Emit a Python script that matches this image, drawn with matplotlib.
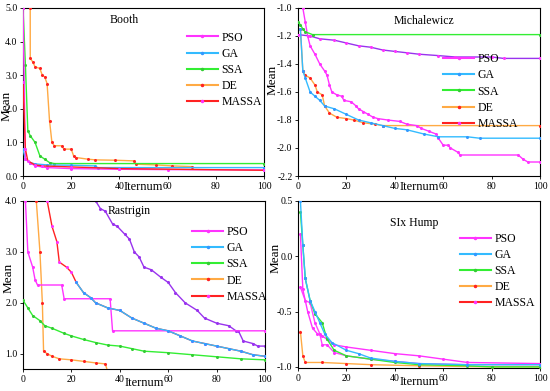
import matplotlib
matplotlib.use("Agg")
import matplotlib.pyplot as plt
from matplotlib.lines import Line2D

plt.rcParams['font.family'] = ['Liberation Serif', 'DejaVu Serif']

names = ["PSO", "GA", "SSA", "DE", "MASSA"]

# ---------------- Booth ----------------
booth_pso_x = [0, 1, 3, 5, 10, 20, 40, 60, 100]
booth_pso_y = [5.0, 0.5, 0.4, 0.3, 0.25, 0.22, 0.2, 0.19, 0.18]
booth_ga_x = [0, 1, 3, 5, 10, 20, 30, 31, 100]
booth_ga_y = [0.8, 0.5, 0.4, 0.36, 0.33, 0.32, 0.3, 0.25, 0.25]
booth_ssa_x = [0, 1, 2, 3, 5, 7, 9, 11, 13, 100]
booth_ssa_y = [5.0, 3.3, 1.35, 1.2, 1.0, 0.6, 0.5, 0.4, 0.37, 0.37]
booth_de_x = [3, 3.01, 4, 5, 7, 8, 9, 10, 11, 12, 13, 16, 17, 20, 21, 22, 27, 30, 38, 46, 47, 55, 62, 70]
booth_de_y = [5.0, 3.5, 3.4, 3.25, 3.2, 3.0, 2.95, 2.75, 1.65, 1.0, 0.9, 0.9, 0.8, 0.8, 0.6, 0.55, 0.5, 0.48, 0.47, 0.45, 0.35, 0.33, 0.3, 0.28]
booth_massa_x = [0, 1, 2, 5, 8, 20, 40, 100]
booth_massa_y = [2.8, 0.8, 0.45, 0.33, 0.3, 0.27, 0.22, 0.17]

# ---------------- Michalewicz ----------------
mich_pso_x = [2, 3, 4, 5, 7, 9, 11, 12, 13, 14, 16, 18, 19, 22, 24, 25, 27, 29, 31, 33, 37, 42, 45, 49, 51, 54, 57, 58, 60, 62, 63, 66, 67, 91, 93, 95, 100]
mich_pso_y = [-1.0, -1.1, -1.2, -1.27, -1.33, -1.4, -1.45, -1.48, -1.55, -1.6, -1.62, -1.63, -1.66, -1.67, -1.7, -1.72, -1.74, -1.76, -1.78, -1.79, -1.8, -1.81, -1.83, -1.84, -1.86, -1.88, -1.9, -1.93, -1.98, -1.98, -2.0, -2.03, -2.05, -2.05, -2.08, -2.1, -2.1]
mich_ga_x = [1, 2, 3, 5, 7, 9, 11, 15, 20, 25, 30, 35, 40, 45, 52, 58, 70, 75, 100]
mich_ga_y = [-1.15, -1.45, -1.5, -1.6, -1.63, -1.66, -1.7, -1.72, -1.76, -1.8, -1.82, -1.84, -1.86, -1.87, -1.9, -1.92, -1.92, -1.93, -1.93]
mich_ssa_x = [0, 1, 2, 3, 6, 100]
mich_ssa_y = [-1.1, -1.12, -1.15, -1.17, -1.19, -1.19]
mich_de_x = [1, 2, 3, 5, 7, 8, 10, 11, 13, 16, 20, 23, 27, 32, 35, 100]
mich_de_y = [-1.15, -1.45, -1.48, -1.5, -1.55, -1.6, -1.62, -1.7, -1.75, -1.78, -1.79, -1.8, -1.82, -1.83, -1.84, -1.84]
mich_massa_x = [0, 5, 9, 15, 20, 25, 30, 35, 40, 45, 50, 58, 65, 80, 85, 100]
mich_massa_y = [-1.19, -1.2, -1.22, -1.23, -1.25, -1.27, -1.28, -1.3, -1.31, -1.32, -1.33, -1.34, -1.35, -1.35, -1.36, -1.36]

# ---------------- Rastrigin ----------------
ras_pso_x = [1, 2, 4, 5, 6, 16, 17, 36, 37, 100]
ras_pso_y = [4.0, 3.0, 2.7, 2.45, 2.35, 2.35, 2.08, 2.08, 1.45, 1.45]
ras_ga_x = [22, 25, 28, 30, 35, 40, 45, 50, 55, 60, 65, 70, 75, 80, 85, 90, 95, 100]
ras_ga_y = [2.4, 2.2, 2.1, 2.0, 1.9, 1.85, 1.7, 1.6, 1.5, 1.45, 1.35, 1.25, 1.2, 1.15, 1.1, 1.05, 0.98, 0.95]
ras_ssa_x = [0, 2, 4, 7, 9, 12, 17, 20, 25, 30, 35, 40, 45, 50, 60, 70, 80, 90, 100]
ras_ssa_y = [2.05, 1.9, 1.75, 1.65, 1.55, 1.5, 1.4, 1.35, 1.28, 1.22, 1.17, 1.15, 1.1, 1.05, 1.02, 0.98, 0.94, 0.9, 0.88]
ras_de_x = [5.5, 7, 8, 8.5, 10, 12, 15, 20, 25, 30, 34, 35]
ras_de_y = [4.0, 3.0, 2.0, 1.05, 1.0, 0.95, 0.9, 0.88, 0.85, 0.82, 0.8, 0.65]
ras_massa_x = [10, 12, 14, 15, 18, 20, 22, 25, 28, 30, 35, 40, 45, 50, 55, 60, 65, 70, 75, 80, 85, 90, 95, 100]
ras_massa_y = [4.0, 3.5, 3.2, 2.8, 2.7, 2.6, 2.4, 2.2, 2.1, 2.0, 1.9, 1.85, 1.7, 1.6, 1.5, 1.45, 1.35, 1.25, 1.2, 1.15, 1.1, 1.05, 0.98, 0.95]
ras_extra_x = [30, 32, 34, 37, 39, 42, 44, 46, 48, 50, 53, 57, 60, 63, 67, 72, 75, 80, 85, 88, 89, 91, 95, 97, 100]
ras_extra_y = [4.0, 3.85, 3.8, 3.55, 3.5, 3.35, 3.25, 3.0, 2.9, 2.7, 2.65, 2.5, 2.4, 2.2, 2.0, 1.85, 1.7, 1.6, 1.55, 1.45, 1.45, 1.25, 1.2, 1.15, 1.15]

# ---------------- Six Hump ----------------
six_pso_x = [1, 2, 4, 6, 8, 10, 12, 15, 20, 30, 40, 50, 60, 70, 100]
six_pso_y = [0.2, -0.3, -0.5, -0.65, -0.7, -0.72, -0.75, -0.8, -0.82, -0.85, -0.88, -0.9, -0.93, -0.96, -0.97]
six_ga_x = [1, 2, 3, 5, 7, 9, 11, 14, 20, 25, 30, 40, 50, 70, 100]
six_ga_y = [0.5, 0.1, -0.2, -0.4, -0.5, -0.6, -0.7, -0.78, -0.85, -0.88, -0.92, -0.95, -0.97, -0.98, -0.98]
six_ssa_x = [1, 2, 3, 5, 7, 10, 12, 15, 20, 30, 40, 50, 70, 80, 100]
six_ssa_y = [0.4, 0.1, -0.2, -0.4, -0.52, -0.6, -0.75, -0.85, -0.9, -0.93, -0.96, -0.98, -0.99, -1.0, -1.0]
six_de_x = [1, 2, 3, 10, 20, 30, 50, 80, 100]
six_de_y = [-0.68, -0.9, -0.96, -0.96, -0.97, -0.98, -0.99, -1.0, -1.0]
six_massa_x = [1, 3, 5, 7, 9, 10, 12, 15, 20, 30, 40, 50, 70, 100]
six_massa_y = [-0.28, -0.4, -0.42, -0.6, -0.7, -0.8, -0.8, -0.87, -0.9, -0.93, -0.95, -0.97, -0.98, -0.98]

line_colors = ["#ff33ff", "#33bbff", "#33ee33", "#ffaa44", "#ff2222"]
marker_colors = ["#ff33ff", "#3399ff", "#33cc33", "#ff2222", "#ff33ff"]
violet = "#9933ee"

W, H = 550, 391
fig = plt.figure(figsize=(W / 100, H / 100), dpi=100)


def add_ax(l, t, r, b):
    return fig.add_axes([l / W, 1 - b / H, (r - l) / W, (b - t) / H])


axes_px = [(23, 8, 264, 176), (298, 8, 540, 176), (23, 201, 265, 369), (298, 201, 540, 368)]

panels = [
    dict(title="Booth", series=[(booth_pso_x, booth_pso_y), (booth_ga_x, booth_ga_y), (booth_ssa_x, booth_ssa_y),
                                (booth_de_x, booth_de_y), (booth_massa_x, booth_massa_y)],
         ylim=(0, 5), yticks=[0, 1, 2, 3, 4, 5], yfmt="{:.1f}", title_xy=(0.42, 0.93),
         leg=(0.68, 0.86), ylab=(-0.045, 0.42), xlab=(0.5, -0.03), violet=None,
         massa_color="#ff2222"),
    dict(title="Michalewicz", series=[(mich_pso_x, mich_pso_y), (mich_ga_x, mich_ga_y), (mich_ssa_x, mich_ssa_y),
                                      (mich_de_x, mich_de_y), (mich_massa_x, mich_massa_y)],
         ylim=(-2.2, -1.0), yticks=[-2.2, -2.0, -1.8, -1.6, -1.4, -1.2, -1.0], yfmt="{:.1f}", title_xy=(0.52, 0.92),
         leg=(0.6, 0.73), ylab=(-0.079, 0.57), xlab=(0.5, -0.03), violet=None, massa_color=violet),
    dict(title="Rastrigin", series=[(ras_pso_x, ras_pso_y), (ras_ga_x, ras_ga_y), (ras_ssa_x, ras_ssa_y),
                                    (ras_de_x, ras_de_y), (ras_massa_x, ras_massa_y)],
         ylim=(0.7, 4.0), yticks=[1, 2, 3, 4], yfmt="{:.1f}", title_xy=(0.44, 0.94),
         leg=(0.7, 0.85), ylab=(-0.033, 0.54), xlab=(0.5, -0.045), violet=(ras_extra_x, ras_extra_y),
         massa_color="#ff2222"),
    dict(title="SIx Hump", series=[(six_pso_x, six_pso_y), (six_ga_x, six_ga_y), (six_ssa_x, six_ssa_y),
                                   (six_de_x, six_de_y), (six_massa_x, six_massa_y)],
         ylim=(-1.01, 0.5), yticks=[-1.0, -0.5, 0.0, 0.5], yfmt="{:.1f}", title_xy=(0.48, 0.87),
         leg=(0.67, 0.81), ylab=(-0.066, 0.66), xlab=(0.5, -0.045), violet=None, massa_color="#ff44ff"),
]

for (l, t, r, b), p in zip(axes_px, panels):
    ax = add_ax(l, t, r, b)
    order = [3, 4, 0, 2, 1] if p["title"] != "Booth" else [3, 2, 1, 0, 4]
    if p["violet"] is not None:
        ax.plot(p["violet"][0], p["violet"][1], color=violet, lw=1.0, marker='o', ms=1.2, zorder=2)
    for i in order:
        xs, ys = p["series"][i]
        c = line_colors[i]
        if i == 4:
            c = p["massa_color"]
        ax.plot(xs, ys, color=c, lw=1.0, marker='o', ms=1.2, mfc=marker_colors[i], mec=marker_colors[i], zorder=3)
    ax.set_xlim(0, 100)
    ax.set_ylim(*p["ylim"])
    ax.set_xticks([0, 20, 40, 60, 80, 100])
    ax.set_yticks(p["yticks"])
    ax.set_yticklabels([p["yfmt"].format(v) for v in p["yticks"]])
    ax.tick_params(labelsize=7, length=2.5, width=0.6, pad=1.5)
    for s in ax.spines.values():
        s.set_linewidth(0.8)
    ax.text(p["title_xy"][0], p["title_xy"][1], p["title"], transform=ax.transAxes, fontsize=8.5,
            ha='center', va='center')
    ax.set_ylabel("Mean", fontsize=9.5)
    ax.yaxis.set_label_coords(*p["ylab"])
    ax.set_xlabel("Iternum", fontsize=9)
    ax.xaxis.set_label_coords(*p["xlab"])
    handles = [Line2D([0], [0], color=line_colors[i], lw=1.5, marker='o', ms=1.5,
                      mfc=marker_colors[i], mec=marker_colors[i]) for i in range(5)]
    ax.legend(handles, names, loc='upper left', bbox_to_anchor=p["leg"], frameon=False, fontsize=8.5,
              handlelength=2.6, handletextpad=0.3, labelspacing=0.35, borderpad=0, borderaxespad=0)

fig.savefig("out.png", dpi=100)
